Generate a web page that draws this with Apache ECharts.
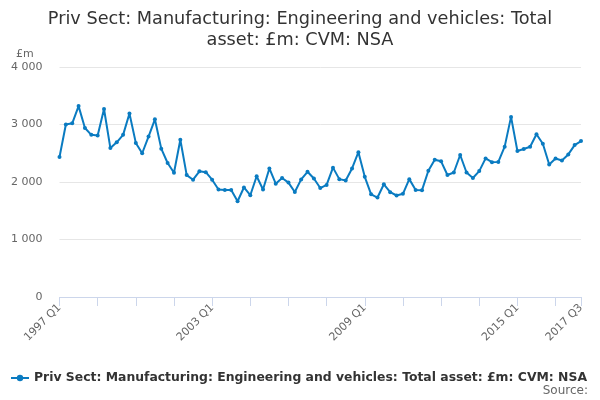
<!DOCTYPE html>
<html>
<head>
<meta charset="utf-8">
<script src="https://cdn.jsdelivr.net/npm/echarts@6/dist/echarts.min.js"></script>
<style>html,body{margin:0;padding:0;background:#fff}#c{width:600px;height:400px}</style>
</head>
<body>
<div id="c"></div>
<script>
var categories = [];
for (var y = 1997; y <= 2017; y++) {
  for (var q = 1; q <= 4; q++) {
    if (y === 2017 && q > 3) break;
    categories.push(y + ' Q' + q);
  }
}
var values = [
  2435, 3000, 3020, 3320, 2940, 2820, 2810, 3270,
  2590, 2690, 2820, 3190, 2680, 2500, 2790, 3090,
  2580, 2330, 2160, 2735, 2120, 2040, 2185, 2170,
  2040, 1870, 1860, 1860, 1665, 1905, 1770, 2100,
  1870, 2235, 1970, 2070, 1990, 1825, 2045, 2178,
  2060, 1895, 1950, 2250, 2050, 2025, 2235, 2518,
  2090, 1785, 1730, 1960, 1822, 1765, 1795, 2050,
  1860, 1858, 2195, 2388, 2360, 2122, 2165, 2470,
  2165, 2070, 2190, 2410, 2345, 2350, 2615, 3132,
  2540, 2575, 2612, 2830, 2665, 2305, 2410, 2375,
  2480, 2642, 2712
];
var yTicks = [0, 1000, 2000, 3000, 4000];
var seriesName = 'Priv Sect: Manufacturing: Engineering and vehicles: Total asset: £m: CVM: NSA';
var titleText = 'Priv Sect: Manufacturing: Engineering and vehicles: Total\nasset: £m: CVM: NSA';

var chart = echarts.init(document.getElementById('c'), null, {renderer: 'canvas'});
chart.setOption({
  animation: false,
  textStyle: {fontFamily: 'DejaVu Sans'},
  title: [{
    text: titleText,
    left: 'center',
    top: 4,
    textStyle: {fontSize: 17.7, fontWeight: 'normal', color: '#333', lineHeight: 21, fontFamily: 'DejaVu Sans', align: 'center'}
  }, {
    text: '£m',
    left: 11,
    top: 44,
    textStyle: {fontSize: 11, fontWeight: 'normal', color: '#666', fontFamily: 'DejaVu Sans'}
  }, {
    text: 'Source:',
    right: 7,
    top: 380,
    textStyle: {fontSize: 12, fontWeight: 'normal', color: '#666', fontFamily: 'DejaVu Sans'}
  }],
  legend: {
    left: 5,
    top: 367,
    itemWidth: 18,
    itemHeight: 8,
    itemGap: 6,
    textStyle: {fontSize: 12.4, fontWeight: 'bold', color: '#333', fontFamily: 'DejaVu Sans'},
    data: [seriesName]
  },
  grid: {left: 59.5, right: 19, top: 67, bottom: 103, containLabel: false},
  xAxis: {
    type: 'category',
    data: categories,
    boundaryGap: false,
    axisLine: {lineStyle: {color: '#ccd6eb'}},
    axisTick: {
      alignWithLabel: true,
      length: 9,
      lineStyle: {color: '#ccd6eb'},
      interval: function (i) { return i % 6 === 0 || i === categories.length - 1; }
    },
    axisLabel: {
      rotate: 45,
      color: '#666',
      fontSize: 11,
      margin: 9,
      interval: function (i) { return i % 24 === 0 || i === categories.length - 1; }
    },
    splitLine: {show: false}
  },
  yAxis: {
    type: 'value',
    min: yTicks[0],
    max: yTicks[yTicks.length - 1],
    interval: 1000,
    axisLine: {show: false},
    axisTick: {show: false},
    axisLabel: {
      color: '#666',
      fontSize: 11,
      margin: 17,
      formatter: function (v) { return String(v).replace(/\B(?=(\d{3})+(?!\d))/g, ' '); }
    },
    splitLine: {lineStyle: {color: '#e6e6e6'}}
  },
  series: [{
    name: seriesName,
    type: 'line',
    data: values,
    color: '#0a7bc1',
    lineStyle: {width: 2},
    symbol: 'circle',
    symbolSize: 4,
    showAllSymbol: true
  }]
});
</script>
</body>
</html>
